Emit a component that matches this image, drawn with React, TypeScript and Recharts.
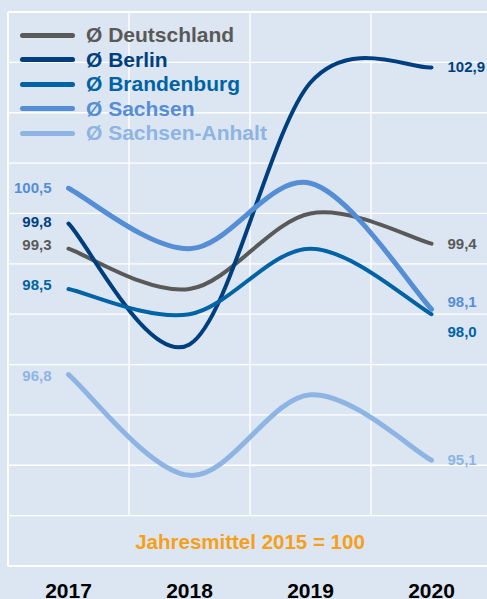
import React from 'react';
import { LineChart, Line, XAxis, YAxis, CartesianGrid, ReferenceLine, ReferenceArea, Legend, LabelList } from 'recharts';

const years = ['2017', '2018', '2019', '2020'];
const deutschland = [99.3, 98.5, 100.0, 99.4];
const berlin = [99.8, 97.4, 102.6, 102.9];
const brandenburg = [98.5, 98.0, 99.3, 98.0];
const sachsen = [100.5, 99.3, 100.6, 98.1];
const sachsenAnhalt = [96.8, 94.8, 96.4, 95.1];
const yTicks = [93, 94, 95, 96, 97, 98, 99, 100, 101, 102, 103, 104];
const bandEdges = [0.5, 1.5, 2.5];
const footnote = 'Jahresmittel 2015 = 100';

const FONT = "'Liberation Sans', Arial, Helvetica, sans-serif";

const series = [
  { key: 'de', name: 'Ø Deutschland', values: deutschland, color: '#595959', width: 4, dyL: -4, dyR: 0 },
  { key: 'be', name: 'Ø Berlin', values: berlin, color: '#003f7f', width: 4, dyL: -2, dyR: 0 },
  { key: 'bb', name: 'Ø Brandenburg', values: brandenburg, color: '#0063a6', width: 4, dyL: -4, dyR: 18 },
  { key: 'sn', name: 'Ø Sachsen', values: sachsen, color: '#558ed5', width: 5, dyL: 0, dyR: -7 },
  { key: 'st', name: 'Ø Sachsen-Anhalt', values: sachsenAnhalt, color: '#8eb4e3', width: 5, dyL: 1, dyR: 0 },
];

const data = years.map((y, i) => {
  const row: any = { idx: i, year: y };
  series.forEach((s) => { row[s.key] = s.values[i]; });
  return row;
});

// Excel-like smoothed line (Catmull-Rom through the points)
function smoothCurve(context: any) {
  let pts: number[][] = [];
  return {
    areaStart() {},
    areaEnd() {},
    lineStart() { pts = []; },
    lineEnd() {
      const n = pts.length;
      if (!n) return;
      context.moveTo(pts[0][0], pts[0][1]);
      for (let i = 0; i < n - 1; i++) {
        const p0 = pts[Math.max(i - 1, 0)];
        const p1 = pts[i];
        const p2 = pts[i + 1];
        const p3 = pts[Math.min(i + 2, n - 1)];
        context.bezierCurveTo(
          p1[0] + (p2[0] - p0[0]) / 6, p1[1] + (p2[1] - p0[1]) / 6,
          p2[0] - (p3[0] - p1[0]) / 6, p2[1] - (p3[1] - p1[1]) / 6,
          p2[0], p2[1]
        );
      }
    },
    point(x: number, y: number) { pts.push([+x, +y]); },
  };
}

const fmt = (v: number) => v.toFixed(1).replace('.', ',');

function makeLabel(s: any) {
  return (props: any) => {
    const { x, y, index, value } = props;
    if (index !== 0 && index !== years.length - 1) return null;
    const left = index === 0;
    return (
      <text
        x={left ? x - 17 : x + 16}
        y={y + (left ? s.dyL : s.dyR) + 5}
        textAnchor={left ? 'end' : 'start'}
        fill={s.color}
        fontFamily={FONT}
        fontWeight="bold"
        fontSize={15}
      >
        {fmt(Number(value))}
      </text>
    );
  };
}

const LegendBox = () => (
  <div style={{ fontFamily: FONT }}>
    {series.map((s) => (
      <div key={s.key} style={{ display: 'flex', alignItems: 'center', height: 24.5 }}>
        <div style={{ width: 55, height: 5, borderRadius: 2.5, background: s.color, marginRight: 11 }} />
        <span style={{ color: s.color, fontWeight: 'bold', fontSize: 21, lineHeight: '24.5px', whiteSpace: 'nowrap' }}>{s.name}</span>
      </div>
    ))}
  </div>
);

const YearTick = (props: any) => {
  const { x, y, payload } = props;
  return (
    <text x={x} y={y + 32} textAnchor="middle" fill="#000" fontFamily={FONT} fontWeight="bold" fontSize={21}>
      {years[payload.value]}
    </text>
  );
};

export default function App() {
  return (
    <div style={{ position: 'fixed', left: 0, top: 0, width: 487, height: 599, overflow: 'hidden', background: '#dce6f2' }}>
      <LineChart width={500} height={620} data={data} margin={{ top: 12, right: 8, left: 8, bottom: 24 }}>
        <CartesianGrid horizontal vertical={false} stroke="#ffffff" strokeWidth={1.3} />
        <XAxis
          type="number"
          dataKey="idx"
          domain={[-0.5, 3.5]}
          ticks={[0, 1, 2, 3]}
          axisLine={false}
          tickLine={false}
          tickSize={0}
          tickMargin={0}
          height={30}
          tick={<YearTick />}
          interval={0}
        />
        <YAxis hide domain={[93, 104]} ticks={yTicks} type="number" />
        {bandEdges.map((b) => (
          <ReferenceLine key={b} segment={[{ x: b, y: 94 }, { x: b, y: 104 }]} stroke="#ffffff" strokeWidth={1.3} />
        ))}
        <ReferenceLine x={-0.5} stroke="#ffffff" strokeWidth={2} />
        <ReferenceLine x={3.5} stroke="#ffffff" strokeWidth={2} />
        <ReferenceLine y={104} stroke="#ffffff" strokeWidth={2} />
        <ReferenceLine y={93} stroke="#ffffff" strokeWidth={2} />
        <ReferenceArea
          x1={-0.5}
          x2={3.5}
          y1={93}
          y2={94}
          fill="none"
          stroke="none"
          label={(p: any) => {
            const vb = p.viewBox || {};
            return (
              <text
                x={vb.x + vb.width / 2}
                y={vb.y + vb.height / 2 + 8}
                textAnchor="middle"
                fill="#f6a01a"
                fontFamily={FONT}
                fontWeight="bold"
                fontSize={20.5}
              >
                {footnote}
              </text>
            );
          }}
        />
        <Legend
          layout="vertical"
          align="center"
          verticalAlign="middle"
          wrapperStyle={{ left: 20, top: 23, width: 'auto', height: 'auto' }}
          content={() => <LegendBox />}
        />
        {series.map((s) => (
          <Line
            key={s.key}
            dataKey={s.key}
            name={s.name}
            type={smoothCurve as any}
            stroke={s.color}
            strokeWidth={s.width}
            strokeLinecap="round"
            dot={false}
            activeDot={false}
            isAnimationActive={false}
          >
            <LabelList dataKey={s.key} content={makeLabel(s)} />
          </Line>
        ))}
      </LineChart>
    </div>
  );
}
